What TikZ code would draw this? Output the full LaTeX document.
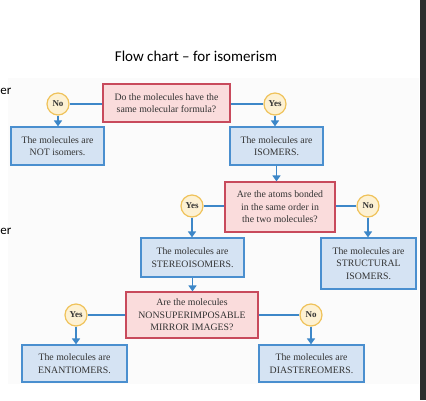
\documentclass[tikz,border=0pt]{standalone}
\usepackage{fontspec}
\setmainfont{Liberation Serif}
\newfontfamily\titlefont{Carlito}
\usetikzlibrary{arrows.meta}
\definecolor{lnblue}{HTML}{3D87C8}
\definecolor{bxfill}{HTML}{D5E3F3}
\definecolor{bxdraw}{HTML}{4A8FCF}
\definecolor{qfill}{HTML}{FADCDC}
\definecolor{qdraw}{HTML}{C84A5C}
\definecolor{cfill}{HTML}{FDF1D3}
\definecolor{cdraw}{HTML}{EFC25A}
\definecolor{bgimg}{HTML}{FBFBFB}
\definecolor{barcol}{HTML}{2E2E2E}
\tikzset{
  answer/.style={draw=bxdraw, fill=bxfill, line width=1.2pt, align=center, inner sep=1pt, font=\fontsize{9.8}{12.5}\selectfont, text=black!80},
  question/.style={draw=qdraw, fill=qfill, line width=1.2pt, align=center, inner sep=1pt, font=\fontsize{9.8}{12.5}\selectfont, text=black!80},
  choice/.style={circle, draw=cdraw, fill=cfill, line width=1.2pt, minimum size=22pt, inner sep=0pt, font=\bfseries\fontsize{9}{10}\selectfont, text=black!80},
  link/.style={draw=lnblue, line width=1.8pt},
  flow/.style={draw=lnblue, line width=1.8pt, -{Triangle[width=8pt,length=6pt]}},
}
\begin{document}
\begin{tikzpicture}[x=1pt,y=-1pt]
\useasboundingbox (0,0) rectangle (426,400);
\fill[white] (0,0) rectangle (426,400);
\fill[bgimg] (8,78) rectangle (419,384);
\fill[barcol] (420,0) rectangle (426,400);
\node[font=\titlefont\fontsize{15}{18}\selectfont] (title) at (196,56) {Flow chart – for isomerism};
\node[font=\titlefont\fontsize{13}{15}\selectfont, anchor=base west, inner sep=0pt] (er1) at (0.3,94) {er};
\node[font=\titlefont\fontsize{13}{15}\selectfont, anchor=base west, inner sep=0pt] (er2) at (0.3,234) {er};

\node[question, minimum width=127pt, minimum height=38pt] (q1) at (166.5,103) {Do the molecules have the\\same molecular formula?};
\node[choice] (c1no) at (58,104) {No};
\node[choice] (c1yes) at (275,104) {Yes};
\node[answer, minimum width=93pt, minimum height=38pt] (notiso) at (57.5,146) {The molecules are\\NOT isomers.};
\node[answer, minimum width=93pt, minimum height=38pt] (iso) at (276.5,146) {The molecules are\\ISOMERS.};

\node[question, minimum width=110pt, minimum height=50pt] (q2) at (280,207) {Are the atoms bonded\\in the same order in\\the two molecules?};
\node[choice] (c2yes) at (192,206) {Yes};
\node[choice] (c2no) at (368,206) {No};
\node[answer, minimum width=103pt, minimum height=39pt] (stereo) at (192.5,257.5) {The molecules are\\STEREOISOMERS.};
\node[answer, minimum width=95pt, minimum height=51pt] (struct) at (368.5,263.5) {The molecules are\\STRUCTURAL\\ISOMERS.};

\node[question, minimum width=132pt, minimum height=46pt] (q3) at (192,315) {Are the molecules\\NONSUPERIMPOSABLE\\MIRROR IMAGES?};
\node[choice] (c3yes) at (76,315) {Yes};
\node[choice] (c3no) at (311,315) {No};
\node[answer, minimum width=105pt, minimum height=37pt] (enan) at (74.5,363.5) {The molecules are\\ENANTIOMERS.};
\node[answer, minimum width=105pt, minimum height=37pt] (dia) at (311.5,363.5) {The molecules are\\DIASTEREOMERS.};

\draw[link] (c1no.east) -- (c1no.east -| q1.west);
\draw[link] (c1yes.west) -- (c1yes.west -| q1.east);
\draw[flow] (c1no.south) -- (c1no.south |- notiso.north);
\draw[flow] (c1yes.south) -- (c1yes.south |- iso.north);
\draw[flow] (iso.south) -- (iso.south |- q2.north);

\draw[link] (c2yes.east) -- (c2yes.east -| q2.west);
\draw[link] (c2no.west) -- (c2no.west -| q2.east);
\draw[flow] (c2yes.south) -- (c2yes.south |- stereo.north);
\draw[flow] (c2no.south) -- (c2no.south |- struct.north);
\draw[flow] (stereo.south) -- (stereo.south |- q3.north);

\draw[link] (c3yes.east) -- (c3yes.east -| q3.west);
\draw[link] (c3no.west) -- (c3no.west -| q3.east);
\draw[flow] (c3yes.south) -- (c3yes.south |- enan.north);
\draw[flow] (c3no.south) -- (c3no.south |- dia.north);
\end{tikzpicture}
\end{document}
